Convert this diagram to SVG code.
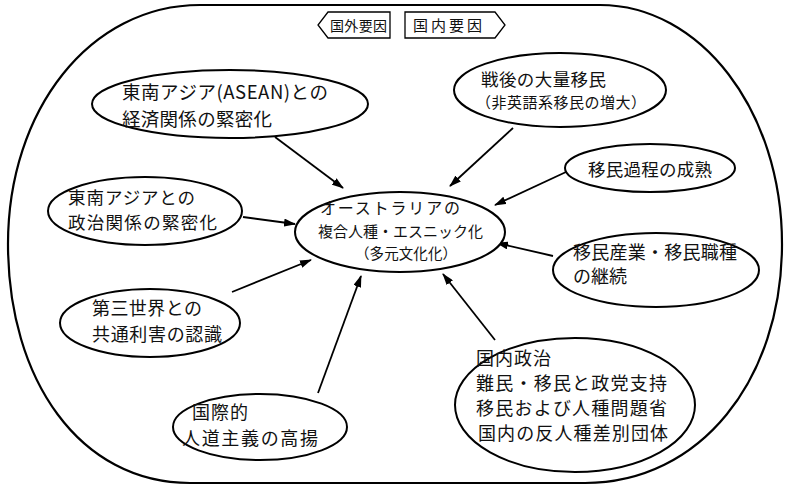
<svg xmlns="http://www.w3.org/2000/svg" width="785" height="487" viewBox="0 0 785 487">
<style>
.n{fill:#fff;stroke:#000;stroke-width:2}
.t{font-family:"Noto Sans CJK JP","Noto Sans CJK SC",sans-serif;fill:#111}
.c line{stroke:#000;stroke-width:1.8}
</style>
<defs>
<marker id="ah" viewBox="0 0 12 8" refX="11" refY="4" markerWidth="12" markerHeight="8" markerUnits="userSpaceOnUse" orient="auto">
<path d="M0,0 L12,4 L0,8 Z" fill="#000"/>
</marker>
</defs>
<rect width="785" height="487" fill="#fff"/>
<g id="frame">
<path d="M200,5 L600,5 C700,5 782,110 782,244 C782,380 700,483 585,483 L190,483 C80,483 8,380 8,244 C8,110 90,5 200,5 Z" fill="none" stroke="#000" stroke-width="2.2"/>
</g>
<g id="tag-outer">
<path d="M328,12 L390,12 L390,38 L328,38 L318,25 Z" fill="#fff" stroke="#000" stroke-width="1.3"/>
<text class="t" x="330" y="31" font-size="14" textLength="57">国外要因</text>
</g>
<g id="tag-inner">
<path d="M405,12 L495,12 L505,25 L495,38 L405,38 Z" fill="#fff" stroke="#000" stroke-width="1.3"/>
<text class="t" x="413" y="31" font-size="15" textLength="69">国内要因</text>
</g>
<g class="c" id="connectors">
<line x1="275" y1="137" x2="343" y2="188" marker-end="url(#ah)"/>
<line x1="513" y1="128" x2="450" y2="186" marker-end="url(#ah)"/>
<line x1="566" y1="172" x2="495" y2="205" marker-end="url(#ah)"/>
<line x1="553" y1="256" x2="497" y2="243" marker-end="url(#ah)"/>
<line x1="495" y1="340" x2="443" y2="274" marker-end="url(#ah)"/>
<line x1="318" y1="393" x2="361" y2="276" marker-end="url(#ah)"/>
<line x1="232" y1="292" x2="311" y2="260" marker-end="url(#ah)"/>
<line x1="243" y1="217" x2="295" y2="224" marker-end="url(#ah)"/>
</g>
<g id="n-asean">
<ellipse class="n" cx="230" cy="104" rx="138" ry="34"/>
<text class="t" x="122" y="99" font-size="18.5" textLength="206">東南アジア(ASEAN)との</text>
<text class="t" x="122" y="126" font-size="18.5" textLength="150">経済関係の緊密化</text>
</g>
<g id="n-postwar">
<ellipse class="n" cx="560" cy="90" rx="106" ry="37"/>
<text class="t" x="481" y="86" font-size="17.5" textLength="125">戦後の大量移民</text>
<text class="t" x="476" y="108" font-size="15" textLength="170">（非英語系移民の増大）</text>
</g>
<g id="n-process">
<ellipse class="n" cx="650" cy="168" rx="85" ry="24"/>
<text class="t" x="588" y="176" font-size="17.5" textLength="124">移民過程の成熟</text>
</g>
<g id="n-industry">
<ellipse class="n" cx="656" cy="270" rx="103" ry="37"/>
<text class="t" x="573" y="259" font-size="18" textLength="164">移民産業・移民職種</text>
<text class="t" x="573" y="283" font-size="18" textLength="54">の継続</text>
</g>
<g id="n-center">
<ellipse class="n" cx="400" cy="232" rx="105" ry="40"/>
<text class="t" x="320" y="214" font-size="16" textLength="140">オーストラリアの</text>
<text class="t" x="318" y="237" font-size="15" textLength="165">複合人種・エスニック化</text>
<text class="t" x="355" y="259" font-size="14.5" textLength="102">（多元文化化）</text>
</g>
<g id="n-politics">
<ellipse class="n" cx="145" cy="211" rx="97" ry="34"/>
<text class="t" x="68" y="204" font-size="17.5" textLength="127">東南アジアとの</text>
<text class="t" x="68" y="229" font-size="17.5" textLength="149">政治関係の緊密化</text>
</g>
<g id="n-thirdworld">
<ellipse class="n" cx="150" cy="323" rx="90" ry="34"/>
<text class="t" x="92" y="315" font-size="18" textLength="110">第三世界との</text>
<text class="t" x="92" y="341" font-size="18" textLength="130">共通利害の認識</text>
</g>
<g id="n-humanitarian">
<ellipse class="n" cx="260" cy="427" rx="87" ry="33"/>
<text class="t" x="192" y="419" font-size="18" textLength="56">国際的</text>
<text class="t" x="182" y="445" font-size="18" textLength="136">人道主義の高揚</text>
</g>
<g id="n-domestic">
<ellipse class="n" cx="575" cy="405" rx="120" ry="67"/>
<text class="t" x="476" y="365" font-size="18" textLength="75">国内政治</text>
<text class="t" x="476" y="390" font-size="18" textLength="191">難民・移民と政党支持</text>
<text class="t" x="476" y="415" font-size="18" textLength="191">移民および人種問題省</text>
<text class="t" x="478" y="440" font-size="18" textLength="190">国内の反人種差別団体</text>
</g>
</svg>
